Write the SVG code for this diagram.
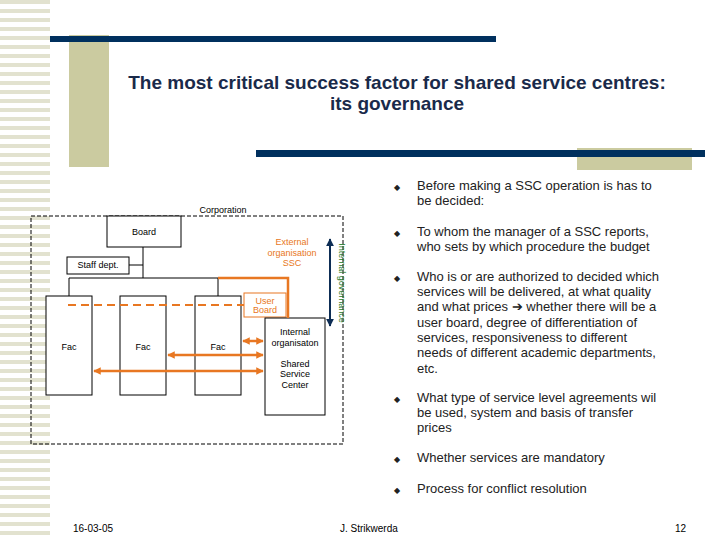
<svg xmlns="http://www.w3.org/2000/svg" width="720" height="540" viewBox="0 0 720 540">
<defs>
<pattern id="stripes" width="50" height="9" patternUnits="userSpaceOnUse"><rect width="50" height="9" fill="#fff"/><rect y="0" width="50" height="4" fill="#e2e2cf"/></pattern>
<marker id="ah" viewBox="0 0 10 10" refX="9" refY="5" markerWidth="3" markerHeight="3" orient="auto-start-reverse"><path d="M0,0 L10,5 L0,10 z" fill="#e87722"/></marker>
<marker id="nh" viewBox="0 0 10 10" refX="9" refY="5" markerWidth="4" markerHeight="4" orient="auto-start-reverse"><path d="M0,0 L10,5 L0,10 z" fill="#0d2d55"/></marker>
</defs>
<style>
.t{font-family:"Liberation Sans",Arial,sans-serif}
.box{fill:#fff;stroke:#000;stroke-width:1}
.lbl{font-size:9px;fill:#000;text-anchor:middle}
.or{font-size:9px;fill:#e87722;text-anchor:middle}
.b{font-size:13px;fill:#222}
.org{stroke:#e87722;stroke-width:2.5;fill:none}
</style>
<rect width="720" height="540" fill="#fff"/>
<rect x="0" y="0" width="50" height="540" fill="url(#stripes)"/>
<rect x="69" y="35" width="40" height="132" fill="#cbcba0"/>
<rect x="50" y="36" width="446" height="6" fill="#00305e"/>
<rect x="577" y="148" width="115" height="22" fill="#cbcba0"/>
<rect x="256" y="150" width="449" height="7" fill="#00305e"/>
<text class="t" x="397" y="89" font-size="19" font-weight="bold" fill="#1a2a4a" text-anchor="middle">The most critical success factor for shared service centres:</text>
<text class="t" x="397" y="110" font-size="19" font-weight="bold" fill="#1a2a4a" text-anchor="middle">its governance</text>

<g id="corporation"><rect x="31" y="216" width="312" height="228" fill="none" stroke="#000" stroke-dasharray="4,2"/><text class="t lbl" x="223" y="213">Corporation</text></g>
<g id="board"><rect class="box" x="107" y="216" width="74" height="31"/><text class="t lbl" x="144" y="235">Board</text></g>
<g id="staff"><rect class="box" x="67" y="257" width="62" height="17"/><text class="t lbl" x="98" y="268">Staff dept.</text></g>
<g id="fac1"><rect class="box" x="46" y="296" width="46" height="99"/><text class="t lbl" x="69" y="350">Fac</text></g>
<g id="fac2"><rect class="box" x="120" y="296" width="46" height="99"/><text class="t lbl" x="143" y="350">Fac</text></g>
<g id="fac3"><rect class="box" x="195" y="296" width="46" height="99"/><text class="t lbl" x="218" y="350">Fac</text></g>
<g id="userboard"><rect x="244" y="293" width="42" height="24" fill="#fff" stroke="#e87722"/><text class="t or" x="265" y="304">User</text><text class="t or" x="265" y="313">Board</text></g>
<g id="ssc"><rect class="box" x="265" y="318" width="60" height="97"/>
<text class="t lbl" x="295" y="335">Internal</text><text class="t lbl" x="295" y="346">organisaton</text>
<text class="t lbl" x="295" y="367">Shared</text><text class="t lbl" x="295" y="377">Service</text><text class="t lbl" x="295" y="388">Center</text></g>
<g id="connectors">
<path d="M143,247 V278 M129,265 H143 M69,296 V278 H218 V296" stroke="#000" fill="none"/>
<path d="M218,278 H288 V318" class="org"/>
<path d="M68,305 H244" stroke="#e87722" stroke-width="2" stroke-dasharray="8,5"/>
<path d="M243,341 H263" class="org" marker-start="url(#ah)" marker-end="url(#ah)"/>
<path d="M168,355 H263" class="org" marker-start="url(#ah)" marker-end="url(#ah)"/>
<path d="M94,371 H263" class="org" marker-start="url(#ah)" marker-end="url(#ah)"/>
<path d="M330,239 V326" stroke="#0d2d55" stroke-width="2" marker-start="url(#nh)" marker-end="url(#nh)"/>
</g>
<g id="external"><text class="t or" x="292" y="245">External</text><text class="t or" x="292" y="256">organisation</text><text class="t or" x="292" y="266">SSC</text></g>
<text class="t" x="0" y="0" font-size="9" fill="#2a7a2a" text-anchor="middle" transform="translate(339,283) rotate(90)">Internal governance</text>

<g class="t b">
<text x="394" y="190" font-size="8">◆</text><text x="417" y="190">Before making a SSC operation is has to</text><text x="417" y="205">be decided:</text>
<text x="394" y="236" font-size="8">◆</text><text x="417" y="236">To whom the manager of a SSC reports,</text><text x="417" y="251">who sets by which procedure the budget</text>
<text x="394" y="281" font-size="8">◆</text><text x="417" y="281">Who is or are authorized to decided which</text>
<text x="417" y="296">services will be delivered, at what quality</text>
<text x="417" y="311">and what prices ➔ whether there will be a</text>
<text x="417" y="327">user board, degree of differentiation of</text>
<text x="417" y="342">services, responsiveness to different</text>
<text x="417" y="357">needs of different academic departments,</text>
<text x="417" y="373">etc.</text>
<text x="394" y="402" font-size="8">◆</text><text x="417" y="402">What type of service level agreements wil</text>
<text x="417" y="417">be used, system and basis of transfer</text>
<text x="417" y="432">prices</text>
<text x="394" y="462" font-size="8">◆</text><text x="417" y="462">Whether services are mandatory</text>
<text x="394" y="493" font-size="8">◆</text><text x="417" y="493">Process for conflict resolution</text>
</g>
<g class="t" font-size="10" fill="#000">
<text x="73" y="532">16-03-05</text>
<text x="340" y="532">J. Strikwerda</text>
<text x="675" y="532">12</text>
</g>
</svg>
